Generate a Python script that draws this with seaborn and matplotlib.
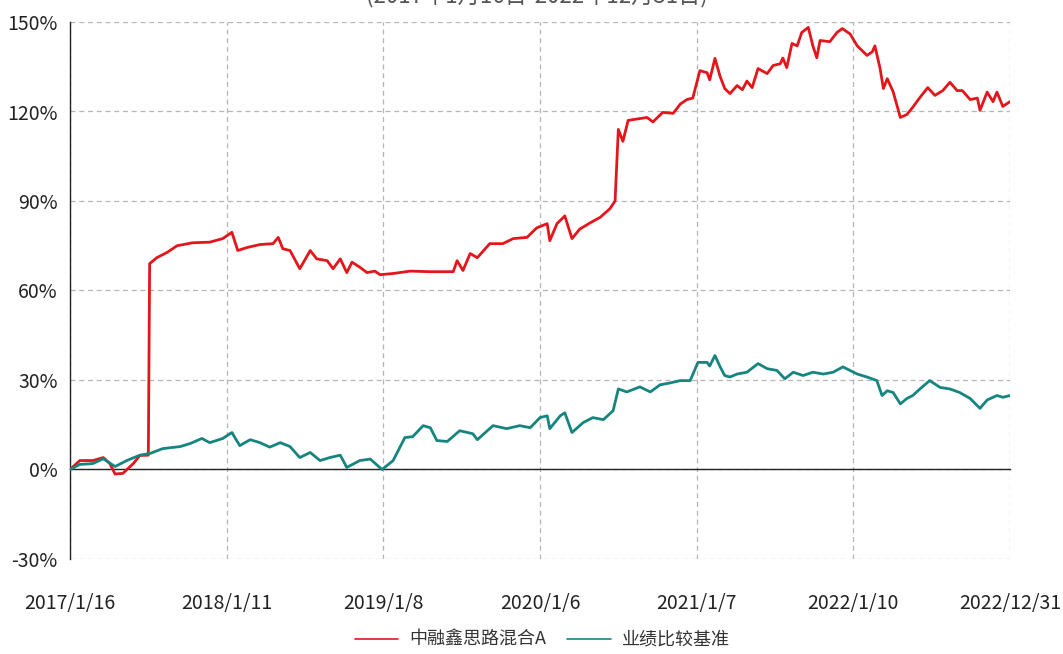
import matplotlib
matplotlib.use("Agg")
import matplotlib.pyplot as plt
import pandas as pd
import seaborn as sns
from matplotlib.lines import Line2D
from matplotlib.ticker import FuncFormatter

# 交易日序号（起点 2017/1/16）与累计收益率（%）
fund_days = [0, 15, 35, 51, 61, 69, 81, 97, 107, 120, 122, 133, 149, 164, 188,
             214, 234, 248, 257, 271, 291, 311, 319, 326, 337, 352, 368, 378,
             394, 403, 414, 424, 432, 444, 455, 467, 475, 495, 521, 552, 587,
             593, 602, 613, 624, 643, 663, 679, 700, 715, 731, 735, 746, 758,
             769, 781, 797, 812, 827, 835, 840, 847, 855, 869, 884, 893, 908,
             924, 935, 945, 954, 965, 976, 980, 988, 996, 1003, 1011, 1022,
             1030, 1037, 1045, 1054, 1068, 1077, 1088, 1092, 1098, 1106, 1114,
             1121, 1131, 1138, 1144, 1149, 1164, 1175, 1183, 1195, 1206, 1213,
             1221, 1229, 1233, 1241, 1246, 1252, 1261, 1272, 1282, 1291, 1302,
             1314, 1325, 1337, 1348, 1359, 1367, 1379, 1390, 1394, 1405, 1414,
             1420, 1429, 1440]
fund_returns = [0, 3, 3, 4, 2, -1.5, -1.3, 2, 4.7, 4.8, 69, 71, 72.8, 75, 76,
                76.2, 77.4, 79.5, 73.4, 74.4, 75.4, 75.7, 77.8, 74, 73.4, 67.3,
                73.4, 70.6, 70, 67.3, 70.6, 66, 69.5, 67.8, 66, 66.5, 65.3,
                65.7, 66.5, 66.3, 66.3, 70, 66.7, 72.4, 71, 75.7, 75.7, 77.4,
                77.8, 81, 82.4, 76.7, 82.4, 85, 77.4, 80.6, 82.7, 84.5, 87.4,
                90, 114, 110, 117, 117.5, 118, 116.5, 119.7, 119.4, 122.5, 124,
                124.5, 133.7, 133, 130.6, 137.8, 131.7, 127.7, 126, 128.7,
                127.3, 130.2, 128, 134.4, 132.7, 135.4, 136, 137.9, 134.7,
                142.8, 142, 146.5, 148.2, 142, 138, 143.8, 143.4, 146.5, 147.8,
                146, 142, 140.5, 138.8, 140, 142, 134.4, 127.7, 131, 126.6, 118,
                119, 121.4, 124.7, 128, 125.4, 127, 129.8, 127, 127, 124, 124.5,
                120.4, 126.5, 123.3, 126.5, 121.7, 123.3]

bench_days = [0, 15, 35, 51, 69, 87, 107, 123, 142, 169, 184, 202, 214, 234,
              248, 260, 276, 291, 306, 322, 337, 352, 368, 383, 398, 414, 424,
              444, 460, 478, 495, 513, 525, 541, 552, 562, 578, 597, 617, 624,
              648, 669, 689, 705, 720, 731, 735, 751, 758, 769, 786, 801, 817,
              832, 840, 853, 873, 889, 904, 919, 935, 950, 962, 976, 980, 988,
              996, 1003, 1011, 1022, 1037, 1054, 1068, 1083, 1095, 1108, 1123,
              1138, 1154, 1169, 1184, 1195, 1206, 1221, 1236, 1244, 1252, 1261,
              1272, 1282, 1291, 1302, 1317, 1333, 1348, 1363, 1379, 1394, 1405,
              1420, 1429, 1440]
bench_returns = [0, 1.7, 2, 3.6, 1, 3, 4.8, 5.4, 7, 7.7, 8.7, 10.4, 9, 10.4,
                 12.4, 8, 10, 9, 7.5, 9, 7.7, 4, 5.7, 3, 4, 4.8, 0.7, 3, 3.5, 0,
                 3, 10.7, 11, 14.7, 14, 9.7, 9.4, 13, 12, 10, 14.7, 13.7, 14.7,
                 14, 17.4, 18, 13.7, 18, 19, 12.4, 15.7, 17.4, 16.7, 19.7, 27,
                 26, 27.7, 26, 28.4, 29, 29.8, 29.8, 35.9, 35.9, 34.7, 38.2,
                 34.4, 31.5, 31, 32, 32.6, 35.5, 33.8, 33.2, 30.4, 32.6, 31.5,
                 32.6, 32, 32.6, 34.4, 33.2, 32, 31, 29.8, 24.8, 26.4, 25.8, 22,
                 23.8, 24.8, 27, 29.8, 27.5, 27, 25.8, 23.8, 20.5, 23.3, 24.8,
                 24.2, 24.8]

tick_days = [0, 240, 480, 720, 960, 1200, 1440]
tick_labels = ["2017/1/16", "2018/1/11", "2019/1/8", "2020/1/6", "2021/1/7",
               "2022/1/10", "2022/12/31"]
y_ticks = [-30, 0, 30, 60, 90, 120, 150]

fund_name = "中融鑫思路混合A"
bench_name = "业绩比较基准"
fund_color = "#e3161c"
bench_color = "#16857f"

sns.set_style("white")
plt.rcParams["font.family"] = ["Noto Sans CJK SC", "DejaVu Sans"]

fig = plt.figure(figsize=(10.63, 6.54), dpi=100)
ax = fig.add_axes([70 / 1063, 1 - 559 / 654, 940 / 1063, 537 / 654])

fund_df = pd.DataFrame({"day": fund_days, "ret": fund_returns})
bench_df = pd.DataFrame({"day": bench_days, "ret": bench_returns})
sns.lineplot(data=fund_df, x="day", y="ret", ax=ax, color=fund_color,
             linewidth=2.0, estimator=None, legend=False, zorder=3)
sns.lineplot(data=bench_df, x="day", y="ret", ax=ax, color=bench_color,
             linewidth=2.0, estimator=None, legend=False, zorder=4)

ax.set_xlim(0, 1440)
ax.set_ylim(-30, 150)
ax.set_xticks(tick_days)
ax.set_xticklabels(tick_labels)
ax.set_yticks(y_ticks)
ax.yaxis.set_major_formatter(FuncFormatter(lambda v, _: f"{v:.0f}%"))
ax.set_xlabel("")
ax.set_ylabel("")

grid_kw = dict(color="#b5b5b5", linewidth=0.9, linestyle=(0, (4, 3)))
ax.grid(True, **grid_kw)
ax.set_axisbelow(True)

for side in ["top", "right"]:
    ax.spines[side].set_visible(False)
ax.spines["left"].set_color("#222222")
ax.spines["left"].set_linewidth(1.0)
ax.spines["bottom"].set_position(("data", 0))
ax.spines["bottom"].set_color("#222222")
ax.spines["bottom"].set_linewidth(1.0)

ax.tick_params(axis="y", direction="out", length=6, width=1, color="#222222",
               labelsize=14, labelcolor="#222222", pad=3)
ax.tick_params(axis="x", direction="out", length=9, width=1, color="#222222",
               labelsize=14, labelcolor="#222222", pad=80)

# 图例用单独的代理线，线宽比曲线细
handles = [Line2D([], [], color=fund_color, linewidth=1.2),
           Line2D([], [], color=bench_color, linewidth=1.2)]
fig.legend(handles, [fund_name, bench_name], loc="center",
           bbox_to_anchor=(0.51, 1 - 640 / 654), ncol=2, frameon=False,
           fontsize=13, handlelength=2.4, columnspacing=1.2,
           handletextpad=0.6, labelcolor="#333333")

# 标题在原图中被裁切，只露出底部
fig.text(0.505, 1 - 2 / 654, "(2017年1月16日-2022年12月31日)", ha="center",
         va="baseline", fontsize=16, color="#555555")

fig.savefig("out.png", dpi=100)
